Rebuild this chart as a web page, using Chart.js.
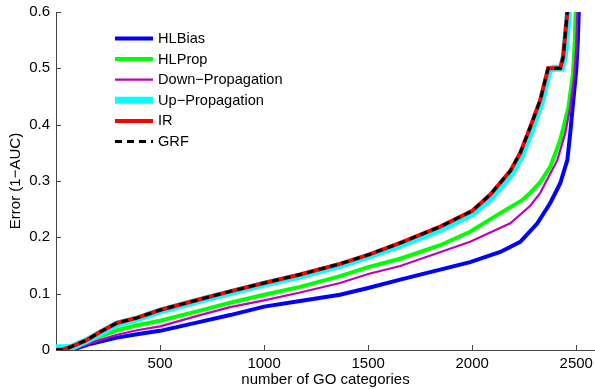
<!DOCTYPE html>
<html lang="en">
<head>
  <meta charset="UTF-8">
  <title>Error vs number of GO categories</title>
  <style>
    body {
      margin: 0;
      background: #fff;
    }
  </style>
  <script src="https://cdn.jsdelivr.net/npm/chart.js"></script>
</head>
<body>
  <canvas id="errorChart" width="595" height="389"></canvas>

  <script>
    // axis ticks
    const xTicks = [500, 1000, 1500, 2000, 2500];
    const yTicks = [0, 0.1, 0.2, 0.3, 0.4, 0.5, 0.6];

    // series names (legend order)
    const seriesNames = ['HLBias', 'HLProp', 'Down\u2212Propagation', 'Up\u2212Propagation', 'IR', 'GRF'];

    // values: x = number of GO categories, y = 1-AUC
    const hlbiasX = [75, 100, 149, 212, 293, 389, 500, 692, 837, 1000, 1173, 1365, 1500, 1654, 1990, 2135, 2231, 2313, 2375, 2423, 2457, 2471, 2486, 2500, 2507, 2512, 2518];
    const hlbiasY = [0, 0.003, 0.009, 0.015, 0.022, 0.028, 0.034, 0.050, 0.062, 0.077, 0.087, 0.098, 0.110, 0.125, 0.156, 0.174, 0.192, 0.225, 0.261, 0.296, 0.337, 0.385, 0.444, 0.497, 0.545, 0.600, 0.700];

    const hlpropX = [65, 100, 149, 212, 293, 389, 500, 692, 837, 1000, 1173, 1365, 1500, 1654, 1846, 1990, 2135, 2240, 2279, 2327, 2375, 2423, 2462, 2484, 2493, 2497, 2502];
    const hlpropY = [0, 0.006, 0.014, 0.024, 0.035, 0.044, 0.052, 0.070, 0.084, 0.098, 0.112, 0.131, 0.147, 0.162, 0.186, 0.210, 0.243, 0.266, 0.279, 0.298, 0.325, 0.373, 0.430, 0.490, 0.550, 0.600, 0.700];

    const downX = [70, 100, 149, 212, 293, 389, 500, 692, 837, 1000, 1173, 1365, 1500, 1654, 1990, 2183, 2279, 2327, 2351, 2409, 2447, 2471, 2490, 2500, 2505, 2510];
    const downY = [0, 0.004, 0.010, 0.018, 0.027, 0.035, 0.042, 0.062, 0.076, 0.088, 0.102, 0.119, 0.135, 0.149, 0.192, 0.225, 0.256, 0.279, 0.296, 0.337, 0.385, 0.431, 0.485, 0.540, 0.600, 0.700];

    const upX = [0, 50, 75, 100, 149, 212, 293, 389, 500, 692, 837, 1000, 1173, 1365, 1500, 1654, 1846, 2000, 2090, 2187, 2236, 2284, 2332, 2370, 2389, 2428, 2442, 2452, 2462, 2475];
    const upY = [0.004, 0.004, 0.005, 0.009, 0.017, 0.030, 0.046, 0.055, 0.069, 0.088, 0.102, 0.117, 0.131, 0.150, 0.166, 0.186, 0.214, 0.242, 0.270, 0.312, 0.344, 0.390, 0.440, 0.497, 0.500, 0.500, 0.520, 0.556, 0.600, 0.700];

    const irX = [0, 35, 60, 100, 149, 212, 293, 389, 500, 692, 837, 1000, 1173, 1365, 1500, 1654, 1846, 2000, 2087, 2183, 2231, 2279, 2327, 2365, 2385, 2423, 2437, 2447, 2457, 2470];
    const irY = [0, 0.001, 0.004, 0.010, 0.018, 0.032, 0.048, 0.057, 0.071, 0.090, 0.104, 0.119, 0.134, 0.153, 0.169, 0.190, 0.219, 0.247, 0.276, 0.318, 0.350, 0.396, 0.444, 0.500, 0.500, 0.500, 0.520, 0.560, 0.600, 0.700];

    const grfX = [0, 35, 60, 100, 149, 212, 293, 389, 500, 692, 837, 1000, 1173, 1365, 1500, 1654, 1846, 2000, 2087, 2183, 2231, 2279, 2327, 2365, 2385, 2423, 2437, 2447, 2457, 2470];
    const grfY = [0, 0.001, 0.004, 0.010, 0.018, 0.032, 0.048, 0.057, 0.071, 0.090, 0.104, 0.119, 0.134, 0.153, 0.169, 0.190, 0.219, 0.247, 0.276, 0.318, 0.350, 0.396, 0.444, 0.500, 0.500, 0.500, 0.520, 0.560, 0.600, 0.700];

    function toPoints(xs, ys) {
      return xs.map((x, i) => ({ x: x, y: ys[i] }));
    }

    const FONT = "'Liberation Sans', Arial, Helvetica, sans-serif";
    const AXIS_COLOR = '#444';

    // MATLAB style ticks pointing into the plot
    const inwardTicks = {
      id: 'inwardTicks',
      beforeDatasetsDraw(chart) {
        const { ctx, chartArea, scales } = chart;
        ctx.save();
        ctx.strokeStyle = AXIS_COLOR;
        ctx.lineWidth = 1;
        ctx.beginPath();
        xTicks.forEach(v => {
          const px = Math.round(scales.x.getPixelForValue(v)) + 0.5;
          ctx.moveTo(px, chartArea.bottom);
          ctx.lineTo(px, chartArea.bottom - 5);
        });
        yTicks.forEach(v => {
          const py = Math.round(scales.y.getPixelForValue(v)) + 0.5;
          ctx.moveTo(chartArea.left, py);
          ctx.lineTo(chartArea.left + 5, py);
        });
        ctx.stroke();
        ctx.restore();
      }
    };

    // legend box inside the axes, top left
    const innerLegend = {
      id: 'innerLegend',
      afterDraw(chart) {
        const { ctx, chartArea } = chart;
        const x0 = chartArea.left + 59;
        const x1 = chartArea.left + 97;
        ctx.save();
        ctx.font = '14.6px ' + FONT;
        ctx.textBaseline = 'middle';
        ctx.fillStyle = '#000';
        chart.data.datasets.forEach((ds, i) => {
          const y = chartArea.top + 26.5 + i * 20.6;
          ctx.beginPath();
          ctx.strokeStyle = ds.borderColor;
          ctx.lineWidth = ds.borderWidth;
          ctx.setLineDash(ds.borderDash || []);
          ctx.moveTo(x0, y);
          ctx.lineTo(x1, y);
          ctx.stroke();
          ctx.setLineDash([]);
          ctx.fillText(ds.label, x1 + 5, y + 0.5);
        });
        ctx.restore();
      }
    };

    const lineStyle = { fill: false, pointRadius: 0, tension: 0, clip: 0 };

    const data = {
      datasets: [
        Object.assign({ label: seriesNames[0], data: toPoints(hlbiasX, hlbiasY), borderColor: '#0000ff', borderWidth: 4, order: 5 }, lineStyle),
        Object.assign({ label: seriesNames[1], data: toPoints(hlpropX, hlpropY), borderColor: '#00ff00', borderWidth: 4, order: 4 }, lineStyle),
        Object.assign({ label: seriesNames[2], data: toPoints(downX, downY), borderColor: '#bf00bf', borderWidth: 2.2, order: 3 }, lineStyle),
        Object.assign({ label: seriesNames[3], data: toPoints(upX, upY), borderColor: '#00ffff', borderWidth: 7, order: 2 }, lineStyle),
        Object.assign({ label: seriesNames[4], data: toPoints(irX, irY), borderColor: '#ff0000', borderWidth: 4, order: 1 }, lineStyle),
        Object.assign({ label: seriesNames[5], data: toPoints(grfX, grfY), borderColor: '#000000', borderWidth: 3, borderDash: [7, 5], order: 0 }, lineStyle)
      ]
    };

    const config = {
      type: 'line',
      data: data,
      plugins: [inwardTicks, innerLegend],
      options: {
        responsive: false,
        animation: false,
        layout: { padding: { top: 12, right: 0, bottom: 0, left: 0 } },
        plugins: {
          legend: { display: false },
          tooltip: { enabled: false }
        },
        scales: {
          x: {
            type: 'linear',
            min: 0,
            max: 2590,
            afterBuildTicks: scale => { scale.ticks = xTicks.map(v => ({ value: v })); },
            afterFit: scale => {
              scale.height = 39;
              scale.paddingLeft = 0;
              scale.paddingRight = 0;
            },
            grid: { drawOnChartArea: false, drawTicks: false },
            border: { display: true, color: AXIS_COLOR, width: 1 },
            ticks: {
              color: '#000',
              padding: 5,
              font: { family: FONT, size: 15 },
              maxRotation: 0,
              callback: v => String(v)
            },
            title: {
              display: true,
              text: 'number of GO categories',
              color: '#000',
              font: { family: FONT, size: 15 },
              padding: { top: 0, bottom: 0 }
            }
          },
          y: {
            min: 0,
            max: 0.6,
            afterBuildTicks: scale => { scale.ticks = yTicks.map(v => ({ value: v })); },
            afterFit: scale => {
              scale.width = 56;
              scale.paddingTop = 0;
              scale.paddingBottom = 0;
            },
            grid: { drawOnChartArea: false, drawTicks: false },
            border: { display: true, color: AXIS_COLOR, width: 1 },
            ticks: {
              color: '#000',
              padding: 6,
              font: { family: FONT, size: 15 },
              callback: v => String(+v.toFixed(1))
            },
            title: {
              display: true,
              text: 'Error (1\u2212AUC)',
              color: '#000',
              font: { family: FONT, size: 15 },
              padding: { top: 7, bottom: 0 }
            }
          }
        }
      }
    };

    new Chart(document.getElementById('errorChart'), config);
  </script>
</body>
</html>
